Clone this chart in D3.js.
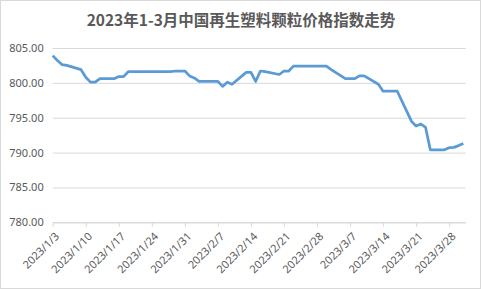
<!DOCTYPE html>
<html>
<head>
<meta charset="utf-8">
<script src="https://cdn.jsdelivr.net/npm/d3@7"></script>
<style>
  body { margin: 0; background: #fff; }
  svg { display: block; }
  text { fill: #595959; }
</style>
</head>
<body>
<svg id="chart" width="481" height="289"></svg>
<script>
// trading days and index values
var dates = [
  "2023/1/3","2023/1/4","2023/1/5","2023/1/6","2023/1/9","2023/1/10","2023/1/11","2023/1/12","2023/1/13",
  "2023/1/16","2023/1/17","2023/1/18","2023/1/19","2023/1/20","2023/1/28","2023/1/29","2023/1/30","2023/1/31",
  "2023/2/1","2023/2/2","2023/2/3","2023/2/6","2023/2/7","2023/2/8","2023/2/9","2023/2/10",
  "2023/2/13","2023/2/14","2023/2/15","2023/2/16","2023/2/17","2023/2/20","2023/2/21","2023/2/22","2023/2/23","2023/2/24",
  "2023/2/27","2023/2/28","2023/3/1","2023/3/2","2023/3/3","2023/3/6","2023/3/7","2023/3/8","2023/3/9","2023/3/10",
  "2023/3/13","2023/3/14","2023/3/15","2023/3/16","2023/3/17","2023/3/20","2023/3/21","2023/3/22","2023/3/23","2023/3/24",
  "2023/3/27","2023/3/28","2023/3/29","2023/3/30","2023/3/31"
];
var values = [
  803.9, 803.2, 802.6, 802.5, 801.9, 800.8, 800.1, 800.1, 800.6,
  800.6, 800.9, 800.9, 801.6, 801.6, 801.6, 801.7, 801.7, 801.7,
  801.0, 800.7, 800.2, 800.2, 800.2, 799.5, 800.1, 799.8,
  801.5, 801.5, 800.2, 801.7, 801.6, 801.2, 801.7, 801.7, 802.4, 802.4,
  802.4, 802.4, 802.4, 802.4, 801.9, 800.6, 800.6, 800.6, 801.0, 801.0,
  799.8, 798.8, 798.8, 798.8, 798.8, 794.5, 793.8, 794.1, 793.6, 790.4,
  790.4, 790.7, 790.75, 791.0, 791.3
];
var yTicks = [780, 785, 790, 795, 800, 805];
var title = "2023年1-3月中国再生塑料颗粒价格指数走势";

var parse = d3.timeParse("%Y/%-m/%-d");
var fmt = d3.timeFormat("%Y/%-m/%-d");
var data = dates.map(function(d, i) { return { date: parse(d), value: values[i] }; });

var svg = d3.select("#chart");
var plotLeft = 52.7, plotRight = 465.7, plotTop = 48, plotBottom = 222.3;

// chart border
svg.append("rect")
  .attr("x", 0.5).attr("y", 0.5)
  .attr("width", 480).attr("height", 288)
  .attr("fill", "#fff")
  .attr("stroke", "#d9d9d9");

svg.append("text")
  .attr("x", 241).attr("y", 26)
  .attr("text-anchor", "middle")
  .style("font-family", "'Noto Sans CJK SC', sans-serif")
  .style("font-weight", "bold")
  .style("font-size", "15.5px")
  .text(title);

var x = d3.scaleTime()
  .domain([parse("2023/1/3"), new Date(2023, 2, 31, 12)])
  .range([plotLeft, plotRight]);
var y = d3.scaleLinear().domain([780, 805]).range([plotBottom, plotTop]);

// gridlines + y labels
var yAxis = d3.axisLeft(y)
  .tickValues(yTicks)
  .tickSize(-(plotRight - plotLeft))
  .tickPadding(9)
  .tickFormat(d3.format(".2f"));
var gy = svg.append("g")
  .attr("transform", "translate(" + plotLeft + ",0)")
  .call(yAxis);
gy.select(".domain").remove();
gy.selectAll("line").attr("stroke", "#d9d9d9");
gy.selectAll("text")
  .style("font-family", "'Noto Sans', sans-serif")
  .style("font-size", "11px")
  .attr("fill", "#595959");

// x axis
var tickDates = d3.timeDay.range(parse("2023/1/3"), parse("2023/3/29"), 7);
var xAxis = d3.axisBottom(x)
  .tickValues(tickDates)
  .tickSize(4.5)
  .tickSizeOuter(0)
  .tickFormat(fmt);
var gx = svg.append("g")
  .attr("transform", "translate(0," + plotBottom + ")")
  .call(xAxis);
gx.select(".domain").attr("stroke", "#d9d9d9");
gx.selectAll("line").attr("stroke", "#d9d9d9");
gx.selectAll("text")
  .style("font-family", "'Noto Sans', sans-serif")
  .style("font-size", "11px")
  .attr("fill", "#595959")
  .attr("text-anchor", "end")
  .attr("y", 0)
  .attr("dy", "0.35em")
  .attr("transform", "translate(4,12) rotate(-45)");

// line
var line = d3.line()
  .x(function(d) { return x(d.date); })
  .y(function(d) { return y(d.value); });
svg.append("path")
  .datum(data)
  .attr("d", line)
  .attr("fill", "none")
  .attr("stroke", "#5b9bd5")
  .attr("stroke-width", 2.75)
  .attr("stroke-linejoin", "round");
</script>
</body>
</html>
